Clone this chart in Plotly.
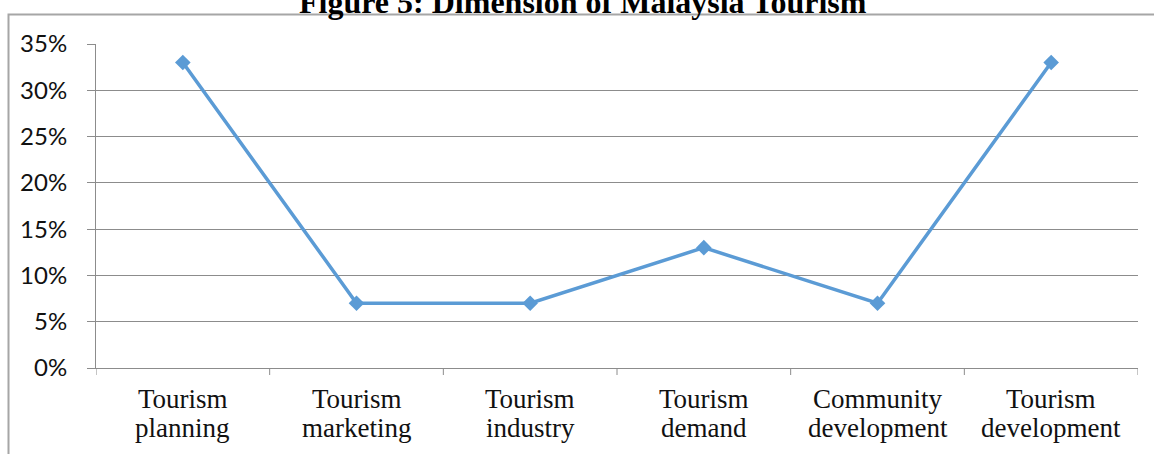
import plotly.graph_objects as go

cat_line1 = ["Tourism", "Tourism", "Tourism", "Tourism", "Community", "Tourism"]
cat_line2 = ["planning", "marketing", "industry", "demand", "development", "development"]
values = [0.33, 0.07, 0.07, 0.13, 0.07, 0.33]
y_ticks = [0, 0.05, 0.10, 0.15, 0.20, 0.25, 0.30, 0.35]
y_labels = ["0%", "5%", "10%", "15%", "20%", "25%", "30%", "35%"]
title = "Figure 5: Dimension of Malaysia Tourism"

W, H = 1154, 454
L, R, T, B = 96, 16, 44, 86
pw, ph = W - L - R, H - T - B

def px(x):
    return (x - L) / pw

def py(y):
    return 1 + (T - y) / ph

n = len(values)
xs = list(range(n))

fig = go.Figure()
fig.add_trace(go.Scatter(
    x=xs, y=values, mode="lines+markers",
    line=dict(color="#5B9BD5", width=3.5),
    marker=dict(symbol="diamond", size=12, color="#5B9BD5"),
    showlegend=False, cliponaxis=False,
))

fig.update_layout(
    width=W, height=H,
    margin=dict(l=L, r=R, t=T, b=B, autoexpand=False),
    paper_bgcolor="white", plot_bgcolor="white",
    xaxis=dict(
        range=[-0.5, n - 0.5],
        tickmode="array", tickvals=xs, ticktext=[""] * n,
        showgrid=False, zeroline=False,
        showline=True, linecolor="#8c8c8c", linewidth=1,
        ticks="", fixedrange=True,
    ),
    yaxis=dict(
        range=[0, 0.35],
        tickmode="array", tickvals=y_ticks, ticktext=y_labels,
        showgrid=True, gridcolor="#8c8c8c", gridwidth=1,
        zeroline=False,
        showline=True, linecolor="#8c8c8c", linewidth=1,
        ticks="outside", ticklen=8, tickcolor="#8c8c8c",
        ticklabelstandoff=15,
        tickfont=dict(family="Lato", size=24, color="#111"),
        fixedrange=True,
    ),
)

shapes = []
for i in range(n + 1):
    xv = i - 0.5
    shapes.append(dict(type="line", xref="x", yref="paper", x0=xv, x1=xv,
                       y0=0, y1=py(375), line=dict(color="#8c8c8c", width=1)))
shapes.append(dict(type="path", xref="paper", yref="paper",
                   path=f"M {px(8.5)} {py(460)} L {px(8.5)} {py(14.5)} L {px(1160)} {py(14.5)}",
                   line=dict(color="#a6a6a6", width=2)))
fig.update_layout(shapes=shapes)

for i in range(n):
    fig.add_annotation(text=cat_line1[i], xref="x", yref="paper", x=xs[i], y=py(399),
                       xanchor="center", yanchor="middle", showarrow=False,
                       font=dict(family="Liberation Serif", size=27, color="#111"))
    fig.add_annotation(text=cat_line2[i], xref="x", yref="paper", x=xs[i], y=py(428),
                       xanchor="center", yanchor="middle", showarrow=False,
                       font=dict(family="Liberation Serif", size=27, color="#111"))

fig.add_annotation(text="<b>" + title + "</b>", xref="paper", yref="paper",
                   x=px(583), y=py(22), xanchor="center", yanchor="bottom",
                   showarrow=False,
                   font=dict(family="Liberation Serif", size=32, color="black"))

fig.write_html("out.html", config={"displayModeBar": False},
               post_script="document.body.style.margin='0';document.body.style.overflow='hidden';")
